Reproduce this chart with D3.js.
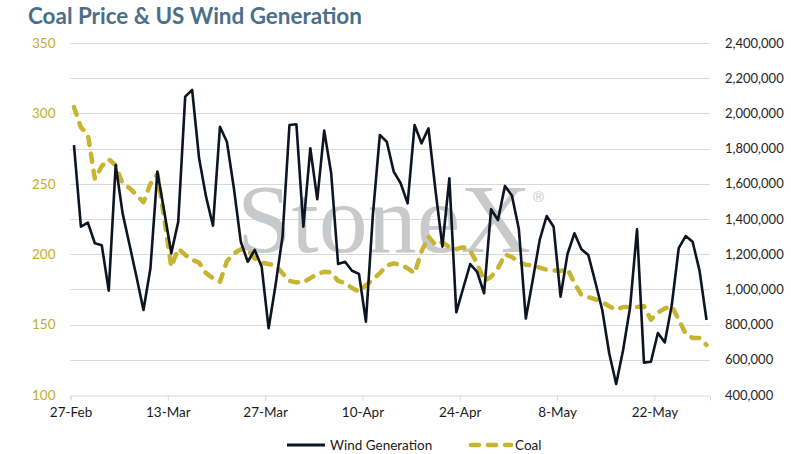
<!DOCTYPE html>
<html>
<head>
<meta charset="utf-8">
<script src="https://d3js.org/d3.v7.min.js"></script>
<style>
    body { margin: 0; background: #fff; }
    text { font-family: Lato, "Open Sans", sans-serif; }
</style>
</head>
<body>
<div id="chart"></div>
<script>
'use strict';

// daily series, starting 27-Feb
const startDay = '2022-02-27';
const dayCount = 92;

const windGeneration = [
    1820000, 1356000, 1379000, 1262000, 1251000, 993000, 1707000, 1432000, 1252000, 1070000,
    883000, 1120000, 1669000, 1440000, 1205000, 1385000, 2095000, 2133000, 1745000, 1527000,
    1362000, 1924000, 1839000, 1576000, 1271000, 1157000, 1224000, 1129000, 779000, 1025000,
    1299000, 1934000, 1938000, 1356000, 1802000, 1512000, 1902000, 1660000, 1144000, 1157000,
    1106000, 1088000, 817000, 1423000, 1877000, 1839000, 1669000, 1603000, 1489000, 1934000,
    1830000, 1915000, 1565000, 1243000, 1631000, 870000, 1008000, 1144000, 1099000, 978000,
    1455000, 1394000, 1588000, 1534000, 1343000, 835000, 1053000, 1281000, 1417000, 1356000,
    959000, 1201000, 1319000, 1228000, 1195000, 1042000, 883000, 637000, 462000, 656000,
    897000, 1341000, 584000, 589000, 752000, 699000, 911000, 1234000, 1303000, 1271000,
    1105000, 826000
];

const coalPrice = [
    304.5, 290, 285, 253.5, 262.5, 267.5, 263, 250, 247, 242,
    237, 250, 257, 225, 191, 204, 199.5, 196, 194, 186.5,
    183, 180.5, 195, 200.5, 203.5, 203, 197, 194, 193, 192,
    186.5, 181, 180, 180, 183, 186, 187.5, 187, 181, 179.5,
    176, 173.5, 178, 182, 186.5, 192, 193.5, 192.5, 190, 186.5,
    202, 212.5, 206.5, 208.5, 205, 203.5, 205, 202.5, 193.5, 181,
    184, 190, 200, 198, 194.5, 192.5, 192, 190.5, 189, 188.5,
    188, 189.5, 179.5, 171, 169.5, 168, 166, 163, 160.5, 162.5,
    162.5, 162.5, 163, 153.5, 158.5, 161.5, 163, 153.5, 143.5, 140.5,
    140.5, 135.5
];

const xTickLabels = ['27-Feb', '13-Mar', '27-Mar', '10-Apr', '24-Apr', '8-May', '22-May'];
const leftTicks = [100, 150, 200, 250, 300, 350];
const rightTicks = [400000, 600000, 800000, 1000000, 1200000, 1400000, 1600000, 1800000, 2000000, 2200000, 2400000];

const seriesNames = ['Wind Generation', 'Coal'];
const titleText = 'Coal Price & US Wind Generation';

const config = {
    width: 791,
    height: 454,
    left: 70.5,
    right: 710,
    top: 43,
    bottom: 395,
    windColor: '#0c1521',
    coalColor: '#c8b433',
    gridColor: '#d9d9d9',
    coalDash: '8,9'
};

function fitText(node, targetWidth, size) {
    // shrink/grow the font until the text spans the measured width
    node.style('font-size', size + 'px');
    var w = node.node().getComputedTextLength();
    node.style('font-size', (size * targetWidth / w) + 'px');
}

const parseDay = d3.utcParse('%Y-%m-%d');
const parseTick = d3.utcParse('%d-%b-%Y');
const start = parseDay(startDay);
const days = d3.utcDay.range(start, d3.utcDay.offset(start, dayCount));

const x = d3.scaleUtc()
    .domain([start, d3.utcDay.offset(start, dayCount)])
    .range([config.left, config.right]);
const yLeft = d3.scaleLinear().domain([100, 350]).range([config.bottom, config.top]);
const yRight = d3.scaleLinear().domain([400000, 2400000]).range([config.bottom, config.top]);

// points sit in the middle of each day slot
const xMid = (d) => x(d3.utcHour.offset(d, 12));

const svg = d3.select('#chart').append('svg')
    .attr('width', config.width)
    .attr('height', config.height);

// gridlines follow the right axis
svg.append('g').selectAll('line')
    .data(rightTicks.slice(1))
    .join('line')
    .attr('x1', config.left)
    .attr('x2', config.right)
    .attr('y1', (d) => Math.round(yRight(d)) + 0.5)
    .attr('y2', (d) => Math.round(yRight(d)) + 0.5)
    .attr('stroke', config.gridColor)
    .attr('stroke-width', 1);

// watermark
const mark = svg.append('g').attr('fill', '#c8c9cb');
mark.append('text')
    .attr('x', 237)
    .attr('y', 252)
    .style('font-family', '"Liberation Serif", "DejaVu Serif", serif')
    .style('font-size', '98px')
    .text('StoneX');
mark.append('text')
    .attr('x', 533)
    .attr('y', 202)
    .style('font-family', '"Liberation Sans", sans-serif')
    .style('font-size', '15px')
    .text('®');

// x axis
const tickDates = xTickLabels.map((t) => parseTick(t + '-2022'));
const xAxis = svg.append('g')
    .attr('transform', `translate(0,${Math.round(config.bottom) + 0.5})`)
    .call(d3.axisBottom(x)
        .tickValues(tickDates)
        .tickSize(5)
        .tickPadding(7)
        .tickFormat((d, i) => xTickLabels[i]));
xAxis.select('.domain').attr('stroke', config.gridColor);
xAxis.selectAll('.tick line').attr('stroke', config.gridColor);
xAxis.selectAll('.tick text')
    .attr('fill', '#1a1a1a')
    .style('font-size', '13.5px')
    .style('font-family', 'Lato, sans-serif');

// left axis (coal)
const leftAxis = svg.append('g')
    .attr('transform', `translate(${config.left},0)`)
    .call(d3.axisLeft(yLeft).tickValues(leftTicks).tickSize(0).tickPadding(15));
leftAxis.select('.domain').remove();
leftAxis.selectAll('.tick text')
    .attr('fill', '#c2ad2c')
    .style('font-size', '13.5px')
    .style('font-family', 'Lato, sans-serif');

// right axis (wind)
const rightAxis = svg.append('g')
    .attr('transform', `translate(${config.right},0)`)
    .call(d3.axisRight(yRight).tickValues(rightTicks).tickSize(0).tickPadding(15)
        .tickFormat(d3.format(',')));
rightAxis.select('.domain').remove();
rightAxis.selectAll('.tick text')
    .attr('fill', '#262626')
    .style('font-size', '13px')
    .style('font-family', 'Lato, sans-serif');

// series
const coalLine = d3.line()
    .x((d, i) => xMid(days[i]))
    .y((d) => yLeft(d));
const windLine = d3.line()
    .x((d, i) => xMid(days[i]))
    .y((d) => yRight(d));

svg.append('path')
    .datum(coalPrice)
    .attr('d', coalLine)
    .attr('fill', 'none')
    .attr('stroke', config.coalColor)
    .attr('stroke-width', 4.5)
    .attr('stroke-linecap', 'round')
    .attr('stroke-linejoin', 'round')
    .attr('stroke-dasharray', config.coalDash);

svg.append('path')
    .datum(windGeneration)
    .attr('d', windLine)
    .attr('fill', 'none')
    .attr('stroke', config.windColor)
    .attr('stroke-width', 2.6)
    .attr('stroke-linejoin', 'round');

// title
const title = svg.append('text')
    .attr('x', 28)
    .attr('y', 24)
    .attr('fill', '#4a6f8a')
    .style('font-weight', 'bold')
    .text(titleText);
fitText(title, 334, 21);

// legend
const legend = svg.append('g');
legend.append('line')
    .attr('x1', 287).attr('x2', 325)
    .attr('y1', 445).attr('y2', 445)
    .attr('stroke', config.windColor)
    .attr('stroke-width', 3);
legend.append('text')
    .attr('x', 330).attr('y', 449.5)
    .attr('fill', '#1a1a1a')
    .style('font-size', '13.5px')
    .text(seriesNames[0]);
legend.append('line')
    .attr('x1', 471).attr('x2', 511)
    .attr('y1', 445).attr('y2', 445)
    .attr('stroke', config.coalColor)
    .attr('stroke-width', 4.5)
    .attr('stroke-linecap', 'round')
    .attr('stroke-dasharray', config.coalDash);
legend.append('text')
    .attr('x', 515).attr('y', 449.5)
    .attr('fill', '#1a1a1a')
    .style('font-size', '13.5px')
    .text(seriesNames[1]);
</script>
</body>
</html>
